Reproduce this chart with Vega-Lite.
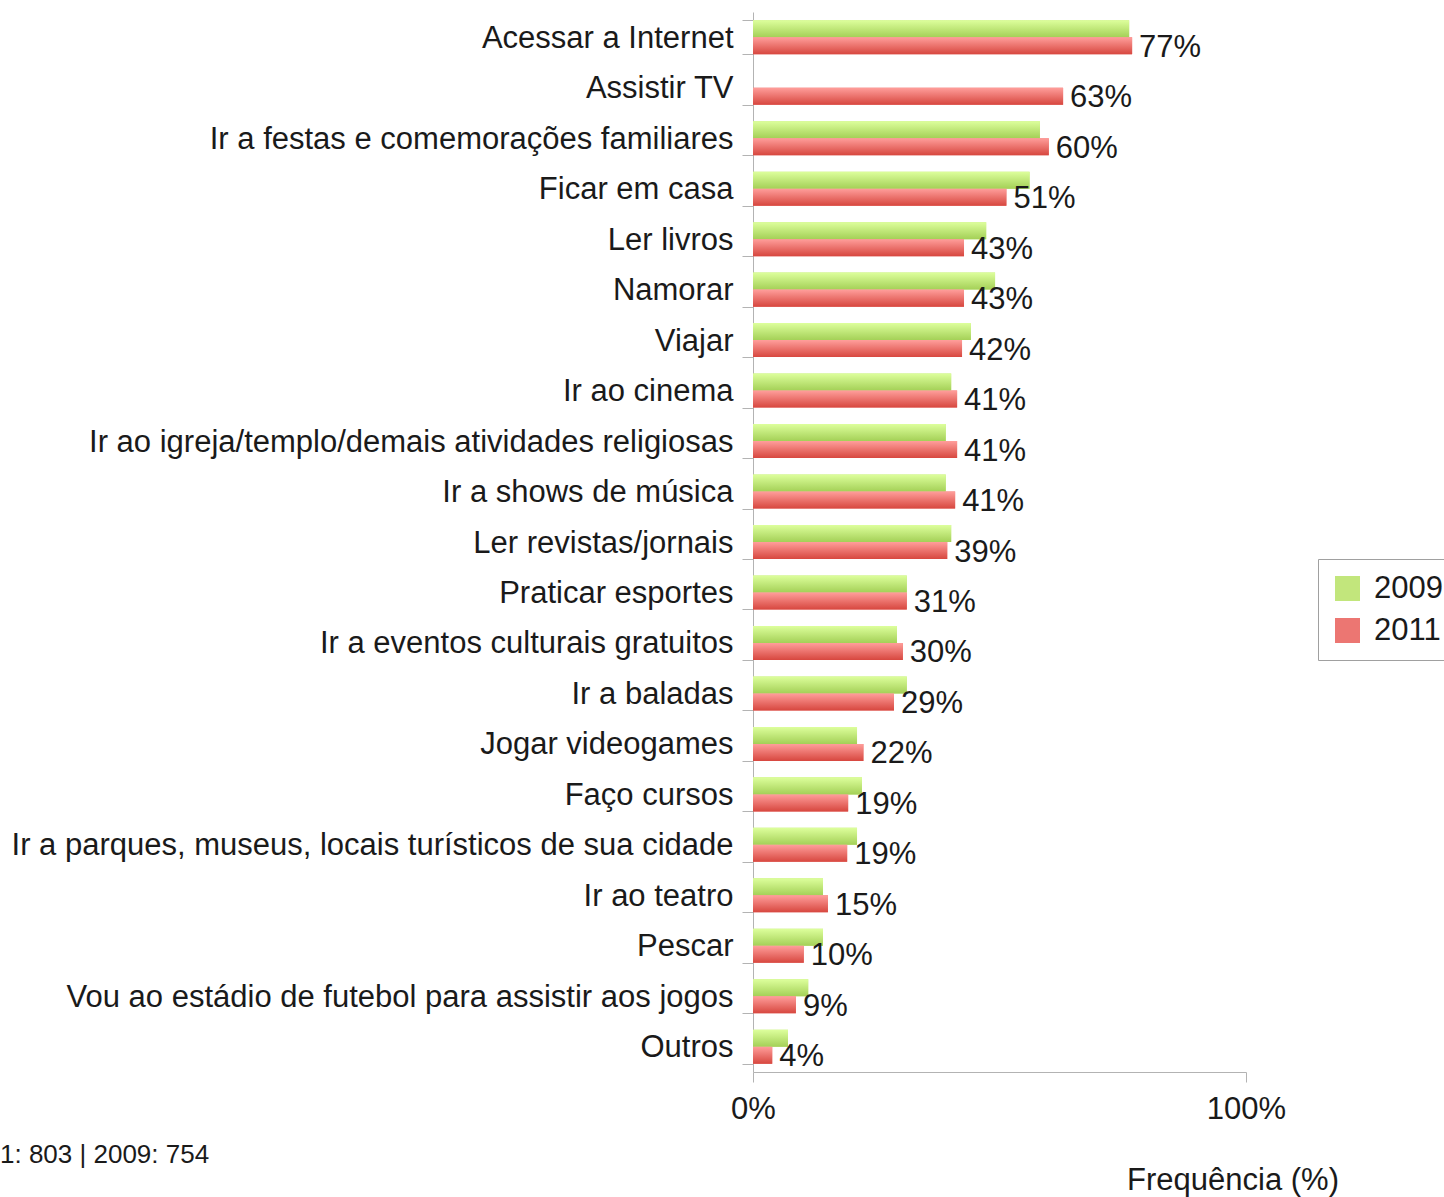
{
  "$schema": "https://vega.github.io/schema/vega-lite/v6.json",
  "width": 493,
  "height": 1060,
  "autosize": "none",
  "padding": {"left": 753, "top": 12, "right": 198, "bottom": 125},
  "background": "white",
  "config": {
    "font": "Liberation Sans",
    "view": {"stroke": null},
    "axis": {"grid": false, "domainColor": "#b3b3b3", "tickColor": "#b3b3b3", "labelColor": "#1a1a1a", "titleColor": "#1a1a1a", "labelFont": "Liberation Sans", "titleFont": "Liberation Sans"}
  },
  "title": {
    "text": "1: 803 | 2009: 754",
    "orient": "top",
    "anchor": "start",
    "frame": "group",
    "offset": 0,
    "baseline": "alphabetic",
    "align": "left",
    "fontSize": 26,
    "fontWeight": "normal",
    "color": "#1a1a1a",
    "font": "Liberation Sans",
    "dx": -753,
    "dy": 1193
  },
  "data": {
    "values": [
      {"activity": "Acessar a Internet", "year": "2009", "value": 0.763},
      {"activity": "Acessar a Internet", "year": "2011", "value": 0.769},
      {"activity": "Assistir TV", "year": "2011", "value": 0.629},
      {"activity": "Ir a festas e comemorações familiares", "year": "2009", "value": 0.582},
      {"activity": "Ir a festas e comemorações familiares", "year": "2011", "value": 0.600},
      {"activity": "Ficar em casa", "year": "2009", "value": 0.561},
      {"activity": "Ficar em casa", "year": "2011", "value": 0.514},
      {"activity": "Ler livros", "year": "2009", "value": 0.473},
      {"activity": "Ler livros", "year": "2011", "value": 0.428},
      {"activity": "Namorar", "year": "2009", "value": 0.491},
      {"activity": "Namorar", "year": "2011", "value": 0.428},
      {"activity": "Viajar", "year": "2009", "value": 0.442},
      {"activity": "Viajar", "year": "2011", "value": 0.424},
      {"activity": "Ir ao cinema", "year": "2009", "value": 0.402},
      {"activity": "Ir ao cinema", "year": "2011", "value": 0.414},
      {"activity": "Ir ao igreja/templo/demais atividades religiosas", "year": "2009", "value": 0.391},
      {"activity": "Ir ao igreja/templo/demais atividades religiosas", "year": "2011", "value": 0.414},
      {"activity": "Ir a shows de música", "year": "2009", "value": 0.391},
      {"activity": "Ir a shows de música", "year": "2011", "value": 0.410},
      {"activity": "Ler revistas/jornais", "year": "2009", "value": 0.402},
      {"activity": "Ler revistas/jornais", "year": "2011", "value": 0.394},
      {"activity": "Praticar esportes", "year": "2009", "value": 0.312},
      {"activity": "Praticar esportes", "year": "2011", "value": 0.312},
      {"activity": "Ir a eventos culturais gratuitos", "year": "2009", "value": 0.292},
      {"activity": "Ir a eventos culturais gratuitos", "year": "2011", "value": 0.304},
      {"activity": "Ir a baladas", "year": "2009", "value": 0.312},
      {"activity": "Ir a baladas", "year": "2011", "value": 0.286},
      {"activity": "Jogar videogames", "year": "2009", "value": 0.211},
      {"activity": "Jogar videogames", "year": "2011", "value": 0.224},
      {"activity": "Faço cursos", "year": "2009", "value": 0.221},
      {"activity": "Faço cursos", "year": "2011", "value": 0.193},
      {"activity": "Ir a parques, museus, locais turísticos de sua cidade", "year": "2009", "value": 0.211},
      {"activity": "Ir a parques, museus, locais turísticos de sua cidade", "year": "2011", "value": 0.191},
      {"activity": "Ir ao teatro", "year": "2009", "value": 0.142},
      {"activity": "Ir ao teatro", "year": "2011", "value": 0.152},
      {"activity": "Pescar", "year": "2009", "value": 0.142},
      {"activity": "Pescar", "year": "2011", "value": 0.103},
      {"activity": "Vou ao estádio de futebol para assistir aos jogos", "year": "2009", "value": 0.112},
      {"activity": "Vou ao estádio de futebol para assistir aos jogos", "year": "2011", "value": 0.087},
      {"activity": "Outros", "year": "2009", "value": 0.071},
      {"activity": "Outros", "year": "2011", "value": 0.039}
    ]
  },
  "encoding": {
    "y": {
      "field": "activity",
      "type": "nominal",
      "sort": null,
      "scale": {"paddingInner": 0.326, "paddingOuter": 0.163},
      "axis": {
        "title": null,
        "tickBand": "extent",
        "tickSize": 11,
        "labelFontSize": 31,
        "labelPadding": 9,
        "labelLimit": 0,
        "labelOffset": 1
      }
    },
    "yOffset": {
      "field": "year",
      "type": "nominal",
      "scale": {"domain": ["2009", "2011"], "paddingInner": 0, "paddingOuter": 0}
    },
    "x": {
      "field": "value",
      "type": "quantitative",
      "scale": {"domain": [0, 1]},
      "axis": {
        "values": [0, 1],
        "format": ".0%",
        "tickSize": 10,
        "labelFontSize": 31,
        "labelPadding": 12,
        "labelFlush": false,
        "title": "Frequência (%)",
        "titleFontSize": 31,
        "titleFontWeight": "normal",
        "titleX": 479.5,
        "titleY": 117,
        "titleAlign": "center",
        "titleBaseline": "alphabetic"
      }
    }
  },
  "layer": [
    {
      "mark": {"type": "bar"},
      "encoding": {
        "color": {
          "field": "year",
          "type": "nominal",
          "scale": {"domain": ["2009", "2011"], "range": ["#c2e67c", "#ec7672"]},
          "legend": {
            "title": null,
            "orient": "none",
            "legendX": 565,
            "legendY": 547,
            "symbolType": "square",
            "symbolSize": 625,
            "symbolStrokeWidth": 0,
            "labelFontSize": 31,
            "labelColor": "#1a1a1a",
            "labelOffset": 11,
            "strokeColor": "#a0a0a0",
            "padding": 14,
            "rowPadding": 10
          }
        }
      }
    },
    {
      "mark": {"type": "bar"},
      "encoding": {
        "color": {
          "condition": {
            "test": "datum.year == '2009'",
            "value": {"gradient": "linear", "x1": 0, "y1": 0, "x2": 0, "y2": 1, "stops": [{"offset": 0, "color": "#ddff9c"}, {"offset": 1, "color": "#a4d057"}]}
          },
          "value": {"gradient": "linear", "x1": 0, "y1": 0, "x2": 0, "y2": 1, "stops": [{"offset": 0, "color": "#ff9e9b"}, {"offset": 1, "color": "#d7473f"}]}
        }
      }
    },
    {
      "transform": [{"filter": "datum.year == '2011'"}],
      "mark": {"type": "text", "align": "left", "baseline": "middle", "dx": 7, "dy": 2, "fontSize": 31, "color": "#1a1a1a"},
      "encoding": {
        "text": {"field": "value", "type": "quantitative", "format": ".0%"}
      }
    }
  ]
}
